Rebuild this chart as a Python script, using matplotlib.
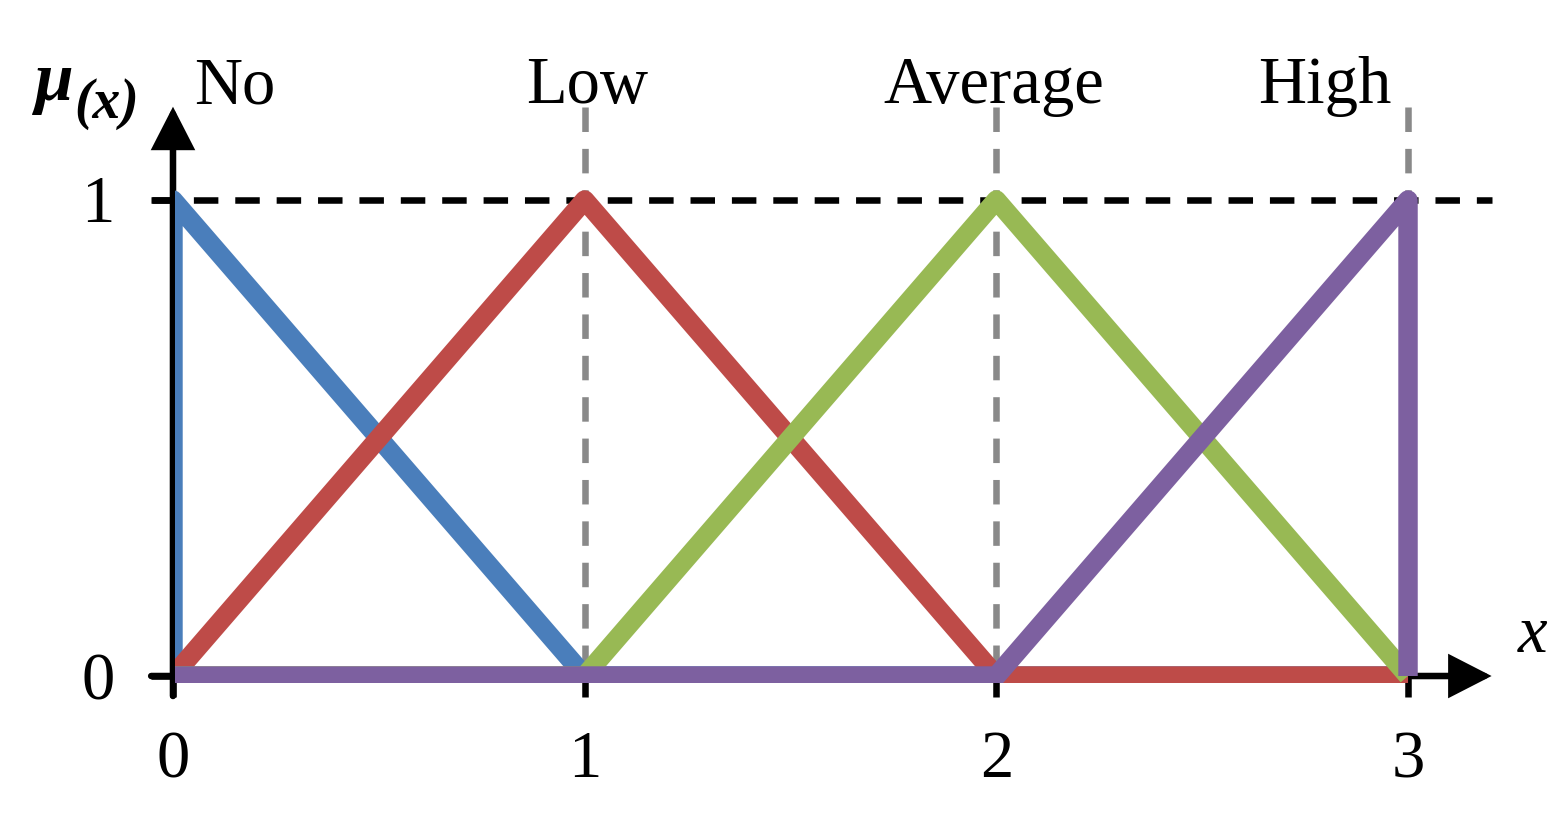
import matplotlib
matplotlib.use("Agg")
import matplotlib.pyplot as plt
from matplotlib.patches import Rectangle, FancyArrowPatch

# ---- data ----
categories = ["No", "Low", "Average", "High"]
peaks = [0, 1, 2, 3]
x_blue = [0, 0, 1, 3]
y_blue = [0, 1, 0, 0]
x_red = [0, 1, 2, 3]
y_red = [0, 1, 0, 0]
x_green = [0, 1, 2, 3]
y_green = [0, 0, 1, 0]
x_purple = [0, 2, 3, 3]
y_purple = [0, 0, 1, 0]
xticks = [0, 1, 2, 3]
yticks = [0, 1]

colors = {"blue": "#4A7EBB", "red": "#BE4B48", "green": "#98B954", "purple": "#7D60A0"}

plt.rcParams['font.family'] = ['Liberation Serif', 'DejaVu Serif']

W, H = 1568, 826
fig = plt.figure(figsize=(W / 100, H / 100), dpi=100)
ax = fig.add_axes([0, 0, 1, 1])
ax.set_xlim(-0.4202, 3.3886)
ax.set_ylim(-0.3151, 1.4202)
ax.axis('off')

lw_axis = 4.7
dash = (0, (3.75, 2.59))

# reference dashed lines
ax.plot([-0.052, 3.2044], [1, 1], color='black', lw=lw_axis, linestyle=dash, zorder=1)
for p in peaks[1:]:
    ax.plot([p, p], [1.195, 0], color='#898989', lw=lw_axis, linestyle=dash, zorder=1)

# axes with arrows
arrow_kw = dict(arrowstyle='-|>,head_length=1.19,head_width=0.61', mutation_scale=20,
                color='black', lw=lw_axis, shrinkA=0, shrinkB=0, joinstyle='miter', zorder=2)
ax.add_patch(FancyArrowPatch((0, -0.042), (0, 1.196), **arrow_kw))
ax.add_patch(FancyArrowPatch((-0.053, 0), (3.203, 0), **arrow_kw))

# ticks
for t in xticks:
    ax.plot([t, t], [0, -0.044], color='black', lw=lw_axis, solid_capstyle='butt', zorder=2)
for t in yticks:
    ax.plot([-0.053, 0], [t, t], color='black', lw=lw_axis, solid_capstyle='butt', zorder=2)

# membership functions (clipped to the plot area)
clip = Rectangle((0.005, -0.0147), 10, 10, transform=ax.transData)
lw = 14.0
for (xs, ys, c, z) in [(x_blue, y_blue, 'blue', 3), (x_red, y_red, 'red', 4),
                       (x_green, y_green, 'green', 5), (x_purple, y_purple, 'purple', 6)]:
    ln, = ax.plot(xs, ys, color=colors[c], lw=lw, solid_joinstyle='round',
                  solid_capstyle='butt', zorder=z)
    ln.set_clip_path(clip)

fs = 48
for t in xticks:
    ax.text(t, -0.2122, str(t), ha='center', va='baseline', fontsize=fs)
ax.text(-0.182, -0.0483, str(yticks[0]), ha='center', va='baseline', fontsize=fs)
ax.text(-0.182, 0.9538, str(yticks[1]), ha='center', va='baseline', fontsize=fs)

label_x = [0.151, 1.006, 1.993, 2.798]
for name, lx in zip(categories, label_x):
    ax.text(lx, 1.2038, name, ha='center', va='baseline', fontsize=fs)

# axis labels
ax.text(3.3036, 0.0504, 'x', ha='center', va='baseline', fontsize=fs, style='italic')
ax.text(-0.3353, 1.2101, 'μ', ha='left', va='baseline', fontsize=50, style='italic', weight='bold')
ax.text(-0.240, 1.1723, '(x)', ha='left', va='baseline', fontsize=40, style='italic', weight='bold')

fig.savefig('out.png', dpi=100)
